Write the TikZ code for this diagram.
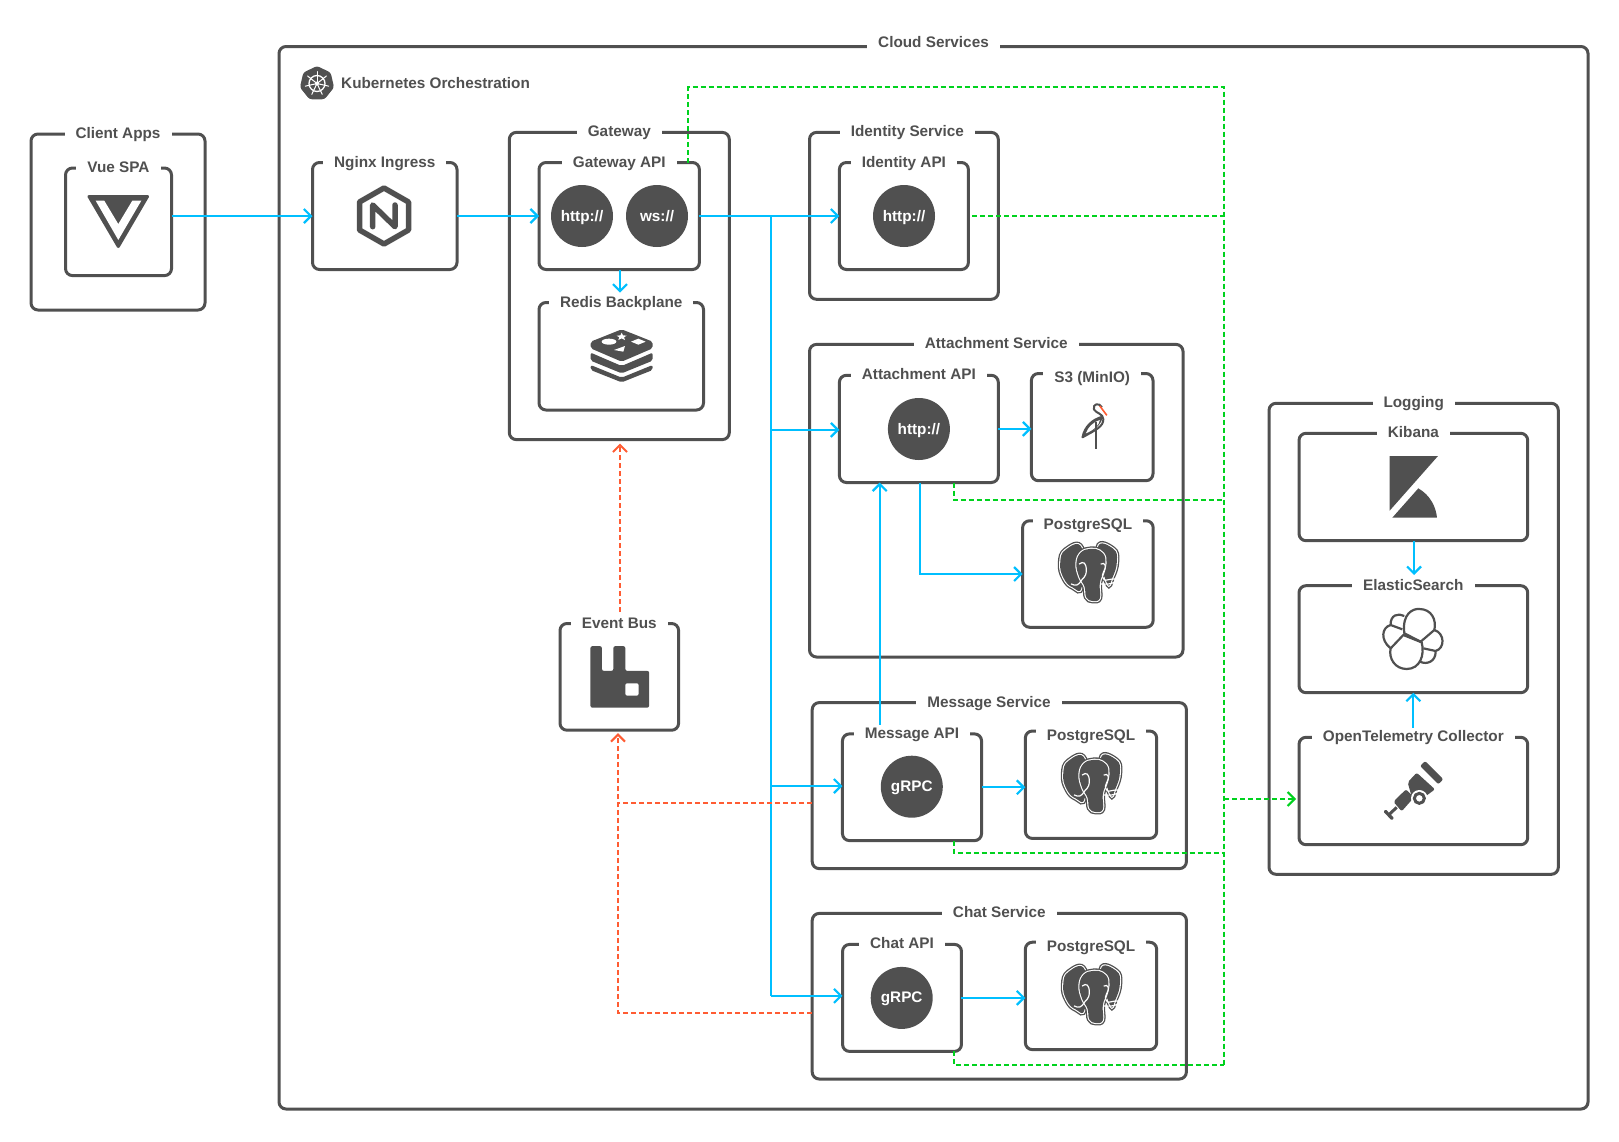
\documentclass[tikz,border=0pt]{standalone}
\usepackage{fontspec}
\setmainfont{Liberation Sans}
\usepackage{xcolor}
\usepackage{tikz}
\usetikzlibrary{positioning}
\usetikzlibrary{arrows.meta}
\definecolor{dark}{HTML}{505050}
\definecolor{sky}{HTML}{00BFFF}
\definecolor{lime}{HTML}{00D21E}
\definecolor{coral}{HTML}{FF5C33}
\tikzstyle{box} = [rectangle, draw=dark, line width=3pt, rounded corners=7pt, outer sep=0pt, inner sep=0pt]
\tikzstyle{title} = [fill=white, text=dark, inner xsep=11pt, inner ysep=1pt, text height=12pt, text depth=3pt, font=\fontsize{15.3}{18}\selectfont\bfseries]
\tikzstyle{proto} = [circle, fill=dark, text=white, minimum size=62pt, inner sep=0pt, text height=13pt, text depth=3pt, font=\fontsize{15.3}{18}\selectfont\bfseries]
\tikzstyle{line} = [draw=sky, line width=2.2pt, -{Straight Barb[length=7pt,width=14pt]}]
\tikzstyle{plain} = [draw=sky, line width=2.2pt]
\tikzstyle{logline} = [draw=lime, line width=2pt, dash pattern=on 5pt off 3pt]
\tikzstyle{event} = [draw=coral, line width=2pt, dash pattern=on 5pt off 3pt]
\tikzstyle{tip} = [-{Straight Barb[length=7pt,width=14pt]}]
\tikzset{elephant/.pic={
	\foreach \w/\c in {4.8/dark, 2.2/white}{
		\draw [line width=\w pt, draw=\c] plot [smooth cycle, tension=.8] coordinates {(-8,-29) (-26,-27) (-32,-12) (-28,5) (-18,15) (-8,14)};
		\draw [line width=\w pt, draw=\c] plot [smooth cycle, tension=.8] coordinates {(10,-30) (27,-28) (31,-14) (26,4) (20,10)};
	}
	\fill [dark] plot [smooth cycle, tension=.8] coordinates {(-8,-29) (-26,-27) (-32,-12) (-28,5) (-18,15) (-8,14)};
	\fill [dark] plot [smooth cycle, tension=.8] coordinates {(10,-30) (27,-28) (31,-14) (26,4) (20,10)};
	\foreach \w/\c in {4.8/dark, 2.2/white}{
		\draw [line width=\w pt, draw=\c] plot [smooth cycle, tension=.7] coordinates {(2,-28) (-9,-24) (-14,-12) (-11,3) (-5,14) (-3,26) (4,30) (12,27) (12,10) (17,-5) (18,-18) (12,-26)};
	}
	\fill [dark] plot [smooth cycle, tension=.7] coordinates {(2,-28) (-9,-24) (-14,-12) (-11,3) (-5,14) (-3,26) (4,30) (12,27) (12,10) (17,-5) (18,-18) (12,-26)};
	\draw [white, line width=1.2pt] (-11,-11) .. controls (-6,-15) and (-3,-12) .. (-3,-4) .. controls (-3,4) and (-8,5) .. (-9,8) .. controls (-12,12) and (-14,14) .. (-20,11);
	\draw [white, line width=1.2pt] (13,-11) .. controls (18,-14) and (20,-8) .. (16,-2) .. controls (14,2) and (15,5) .. (18,7) .. controls (24,6) and (30,4) .. (30,7) .. controls (30,10) and (22,12) .. (12,11);
}}
\begin{document}
\begin{tikzpicture}[x=1pt, y=-1pt]
	\useasboundingbox (0,0) rectangle (1619,1141);

	% Place nodes
	\node [box, minimum width=174pt, minimum height=176pt] 		(Client Apps) 		at (118,222) 		{};
	\node [box, minimum width=106pt, minimum height=107.6pt] 	(Vue SPA) 			at (118.5,221.8) 	{};
	\node [box, minimum width=1309pt, minimum height=1062.5pt] 	(Cloud Services) 	at (933.5,577.75) 	{};
	\node [box, minimum width=144.5pt, minimum height=107pt] 	(Nginx Ingress) 	at (384.75,216) 	{};
	\node [box, minimum width=220pt, minimum height=307.2pt] 	(Gateway) 			at (619.3,286) 		{};
	\node [box, minimum width=160.4pt, minimum height=107pt] 	(Gateway API) 		at (619.2,216) 		{};
	\node [box, minimum width=164.5pt, minimum height=107.5pt] 	(Redis Backplane) 	at (621.25,356.25) 	{};
	\node [box, minimum width=188.8pt, minimum height=166.9pt] 	(Identity Service) 	at (903.9,215.85) 	{};
	\node [box, minimum width=129pt, minimum height=107pt] 		(Identity API) 		at (903.9,216) 		{};
	\node [box, minimum width=373.5pt, minimum height=312.6pt] 	(Attachment Service) at (996.25,500.7) 	{};
	\node [box, minimum width=158.9pt, minimum height=107.2pt] 	(Attachment API) 	at (918.85,428.9) 	{};
	\node [box, minimum width=121.6pt, minimum height=107.2pt] 	(Attachment S3) 	at (1092.2,427.1) 	{};
	\node [box, minimum width=130.6pt, minimum height=106.5pt] 	(Attachment DB) 	at (1087.9,574) 	{};
	\node [box, minimum width=374.2pt, minimum height=166pt] 	(Message Service) 	at (999.3,785.6) 	{};
	\node [box, minimum width=139.1pt, minimum height=106.7pt] 	(Message API) 		at (912,787.25) 	{};
	\node [box, minimum width=131.3pt, minimum height=107.4pt] 	(Message DB) 		at (1091,784.7) 	{};
	\node [box, minimum width=374.2pt, minimum height=165.6pt] 	(Chat Service) 		at (999.3,996.2) 	{};
	\node [box, minimum width=118.9pt, minimum height=107pt] 	(Chat API) 			at (902,997.9) 		{};
	\node [box, minimum width=131.3pt, minimum height=107.4pt] 	(Chat DB) 			at (1091,995.9) 	{};
	\node [box, minimum width=118.6pt, minimum height=106.7pt] 	(Event Bus) 		at (619.3,676.85) 	{};
	\node [box, minimum width=289.3pt, minimum height=471pt] 	(Logging) 			at (1413.65,638.8) 	{};
	\node [box, minimum width=228.7pt, minimum height=107.4pt] 	(Kibana) 			at (1413.35,487) 	{};
	\node [box, minimum width=228.7pt, minimum height=107pt] 	(ElasticSearch) 	at (1413.35,639.2) 	{};
	\node [box, minimum width=228.7pt, minimum height=107.4pt] 	(Collector) 		at (1413.35,791) 	{};

	% Titles
	\node [title] 				(Client Apps title) 	at (Client Apps.north) 		{Client Apps};
	\node [title] 				(Vue SPA title) 		at (Vue SPA.north) 			{Vue SPA};
	\node [title, yshift=3.5pt] (Cloud title) 			at (Cloud Services.north) 	{Cloud Services};
	\node [title] 				(Nginx title) 			at (Nginx Ingress.north) 	{Nginx Ingress};
	\node [title] 				(Gateway title) 		at (Gateway.north) 			{Gateway};
	\node [title] 				(Gateway API title) 	at (Gateway API.north) 		{Gateway API};
	\node [title] 				(Redis title) 			at (Redis Backplane.north) 	{Redis Backplane};
	\node [title, xshift=3.5pt] (Identity title) 		at (Identity Service.north) {Identity Service};
	\node [title] 				(Identity API title) 	at (Identity API.north) 	{Identity API};
	\node [title] 				(Attachment title) 		at (Attachment Service.north) {Attachment Service};
	\node [title] 				(Attachment API title) 	at (Attachment API.north) 	{Attachment API};
	\node [title, yshift=-4pt] (S3 title) 				at (Attachment S3.north) 	{S3 (MinIO)};
	\node [title, yshift=-4pt] (Attachment DB title) 	at (Attachment DB.north) 	{PostgreSQL};
	\node [title, xshift=-10.3pt] (Message title) 		at (Message Service.north) 	{Message Service};
	\node [title] 				(Message API title) 	at (Message API.north) 		{Message API};
	\node [title, yshift=-4.5pt] (Message DB title) 	at (Message DB.north) 		{PostgreSQL};
	\node [title] 				(Chat title) 			at (Chat Service.north) 	{Chat Service};
	\node [title] 				(Chat API title) 		at (Chat API.north) 		{Chat API};
	\node [title, yshift=-4.5pt] (Chat DB title) 		at (Chat DB.north) 			{PostgreSQL};
	\node [title] 				(Event Bus title) 		at (Event Bus.north) 		{Event Bus};
	\node [title] 				(Logging title) 		at (Logging.north) 			{Logging};
	\node [title] 				(Kibana title) 			at (Kibana.north) 			{Kibana};
	\node [title] 				(Elastic title) 		at (ElasticSearch.north) 	{ElasticSearch};
	\node [title] 				(Collector title) 		at (Collector.north) 		{OpenTelemetry Collector};
	\node [title, anchor=west, inner xsep=0pt, fill=none] (Kubernetes title) at (341,83.5) {Kubernetes Orchestration};

	% Protocols
	\node [proto] (Gateway http) 	at (582,216) 	{http://};
	\node [proto] (Gateway ws) 		at (657,216) 	{ws://};
	\node [proto] (Identity http) 	at (904,216) 	{http://};
	\node [proto] (Attachment http) at (918.9,429) 	{http://};
	\node [proto] (Message grpc) 	at (911.8,786.7) {gRPC};
	\node [proto] (Chat grpc) 		at (901.7,997.9) {gRPC};

	% Helper points
	\coordinate (trunk) 		at (770.8,216);
	\coordinate (message out) 	at (879.7,724.8);
	\coordinate (log top) 		at (1224,87);
	\coordinate (log attach) 	at (1224,500);
	\coordinate (log message) 	at (1224,853);
	\coordinate (log chat) 		at (1224,1065);
	\coordinate (log out) 		at (1224,799);
	\coordinate (event message) at (812,803);
	\coordinate (event chat) 	at (812,1013);

	%Draw edges
	\path [line] (Vue SPA.east |- Nginx Ingress.west) 	-- (Nginx Ingress.west);
	\path [line] (Nginx Ingress.east) 					-- (Gateway API.west);
	\path [line] (Gateway API.east) 					-- (Identity API.west);
	\path [line] (Gateway API.south -| 620,0) 			-- (620,292.7);
	\path [plain] (trunk) 								-- ([yshift=2pt]trunk |- Chat API.west);
	\path [line] ([yshift=-1pt]trunk |- Attachment API.west) -- ([yshift=-1pt]Attachment API.west);
	\path [line] ([yshift=1.2pt]trunk |- Message API.west) 	-- ([yshift=1.2pt]Message API.west);
	\path [line] ([yshift=2pt]trunk |- Chat API.west) 	-- ([yshift=2pt]Chat API.west);
	\path [line] (Attachment API.east) 					-- (Attachment API.east -| Attachment S3.west);
	\path [line] ([xshift=1pt]Attachment API.south) 	|- (Attachment DB.west);
	\path [line] (message out) 							-- (message out |- Attachment API.south);
	\path [line] (Message API.east) 					-- (Message API.east -| Message DB.west);
	\path [line] (Chat API.east) 						-- (Chat API.east -| Chat DB.west);
	\path [line] ([xshift=.7pt]Kibana.south) 			-- ([xshift=.7pt,yshift=2pt]Elastic title.north);
	\path [line] ([yshift=1pt]Collector title.north) 	-- (ElasticSearch.south);

	% Logs
	\path [logline] ([xshift=68.8pt]Gateway API.north) 	|- (log top) -- (log chat);
	\path [logline] ([xshift=4pt]Identity API.east) 	-- (log top |- Identity API.east);
	\path [logline] ([xshift=35.15pt]Attachment API.south) |- (log attach);
	\path [logline] ([xshift=42pt]Message API.south) 	|- (log message);
	\path [logline] ([xshift=52pt]Chat API.south) 		|- (log chat);
	\path [logline, tip, shorten >=3pt] (log out) 		-- (log out -| Collector.west);

	% Events
	\path [event, tip] ([xshift=.7pt,yshift=11.5pt]Event Bus.north) -- ([xshift=.7pt,yshift=-4pt]Gateway.south);
	\path [event, tip] (event chat) -| ([xshift=-1.3pt,yshift=-3pt]Event Bus.south);
	\path [event] (event message) 						-- ([xshift=-1.3pt]event message -| Event Bus.south);

	% Kubernetes
	\begin{scope}[shift={(317,83.5)}]
		\fill [dark, rounded corners=2.5pt] (-90:17.5) \foreach \a in {1,...,6} {-- ({-90+\a*360/7}:17.5)} -- cycle;
		\draw [white, line width=1.3pt] (0,0) circle (8);
		\fill [white] (0,0) circle (2);
		\foreach \a in {0,...,6} {\draw [white, line width=1pt, line cap=round] (0,0) -- ({-90+\a*360/7}:12);}
	\end{scope}

	% Vue
	\fill [dark, draw=dark, line width=3pt, line join=round] (89,196.5) -- (147.5,196.5) -- (118.3,246.5) -- cycle;
	\fill [white] (95.7,200.7) -- (104.3,200.7) -- (118.3,224) -- (132.3,200.7) -- (141.3,200.7) -- (118.3,240) -- cycle;

	% Nginx
	\draw [dark, line width=5.5pt, line join=round] (384,188) -- (408.5,202) -- (408.5,230) -- (384,244) -- (359.5,230) -- (359.5,202) -- cycle;
	\draw [dark, line width=5.5pt, line cap=round, line join=round] (372.7,226.7) -- (372.7,205) -- (395,226.7) -- (395,205);

	% Redis
	\begin{scope}[shift={(570,310)}, x=.3333pt, y=-.3333pt]
		\fill [dark, rounded corners=2pt] (155,58) -- (248,95) -- (248,115) -- (155,155) -- (62,115) -- (62,95) -- cycle;
		\fill [dark, rounded corners=2pt] (62,128) -- (155,168) -- (248,128) -- (248,152) -- (155,190) -- (62,152) -- cycle;
		\fill [dark, rounded corners=2pt] (62,165) -- (155,203) -- (248,165) -- (248,180) -- (155,217) -- (62,180) -- cycle;
		\fill [white] (117,95) ellipse [x radius=22, y radius=9];
		\fill [white] (183,95) -- (205,86) -- (227,95) -- (205,104) -- cycle;
		\fill [white] (132,120) -- (165,108) -- (160,125) -- cycle;
		\fill [white] (155,68) -- (159,76) -- (170,77) -- (162,82) -- (165,90) -- (155,85) -- (145,90) -- (148,82) -- (140,77) -- (151,76) -- cycle;
	\end{scope}

	% MinIO
	\begin{scope}[shift={(1040,380)}, x=.348pt, y=-.3333pt]
		\fill [dark] (122,172) .. controls (128,140) and (150,118) .. (180,110) .. controls (178,130) and (160,150) .. (122,172) -- cycle;
		\draw [dark, line width=2pt, line join=round] (178,82) .. controls (170,66) and (150,72) .. (155,88) .. controls (160,100) and (182,100) .. (182,118) .. controls (182,140) and (160,150) .. (122,172) .. controls (128,140) and (150,118) .. (180,110);
		\fill [white] (132,160) .. controls (138,142) and (150,128) .. (172,120) .. controls (170,135) and (155,150) .. (132,160) -- cycle;
		\draw [dark, line width=2.2pt] (162,125) -- (162,207);
		\draw [coral, line width=1.6pt] (172,78) -- (192,106);
	\end{scope}

	% PostgreSQL
	\pic [scale=.9] at (1089,574) {elephant};
	\pic [scale=.9] at (1092,785) {elephant};
	\pic [scale=.9] at (1092,996) {elephant};

	% RabbitMQ
	\begin{scope}[shift={(500,570)}, x=.459pt, y=-.3642pt]
		\fill [dark, rounded corners=2pt] (197,209) -- (222,209) -- (222,277) -- (247,277) -- (247,209) -- (273,209) -- (273,277) -- (325,277) -- (325,378) -- (197,378) -- cycle;
		\fill [white, rounded corners=2pt] (273,311) rectangle (302,345);
	\end{scope}

	% Kibana
	\begin{scope}[shift={(1220,390)}, x=.3333pt, y=-.3333pt]
		\fill [dark] (509,198) -- (654,198) -- (509,362) -- cycle;
		\fill [dark] (517,383) -- (595,295) .. controls (630,315) and (648,350) .. (651,383) -- cycle;
	\end{scope}

	% ElasticSearch
	\begin{scope}[shift={(1370,590)}, x=.3333pt, y=-.3333pt, line width=2.2pt, line join=round]
		\draw [dark] (103,130) .. controls (95,70) and (130,55) .. (148,57) .. controls (185,57) and (200,90) .. (193,120) -- (152,155) -- cycle;
		\draw [dark] (100,135) -- (155,157) .. controls (165,195) and (150,237) .. (110,237) .. controls (75,237) and (55,205) .. (62,175) -- cycle;
		\draw [dark] (103,78) .. controls (85,68) and (60,75) .. (62,105) -- (97,118);
		\draw [dark] (62,105) .. controls (35,112) and (30,150) .. (62,175);
		\draw [dark] (193,120) .. controls (225,130) and (225,175) .. (197,183) -- (160,175);
		\draw [dark] (197,185) .. controls (197,215) and (170,225) .. (150,215);
	\end{scope}

	% Telescope
	\begin{scope}[shift={(1370,750)}, x=.3333pt, y=-.3333pt]
		\fill [dark, rounded corners=2pt] (165,33) -- (220,88) -- (205,103) -- (150,48) -- cycle;
		\fill [dark, rounded corners=2pt] (113,97) -- (140,68) -- (195,118) -- (165,140) -- (125,140) -- cycle;
		\fill [dark, rounded corners=2pt] (70,155) -- (108,118) -- (132,142) -- (95,184) -- cycle;
		\fill [white] (148,145) circle (25);
		\draw [dark, line width=3pt] (148,145) circle (15);
		\fill [dark, rounded corners=1pt] (40,185) -- (47,178) -- (72,204) -- (65,211) -- cycle;
		\draw [dark, line width=3pt] (58,193) -- (80,172);
	\end{scope}

	\end{tikzpicture}
\end{document}
